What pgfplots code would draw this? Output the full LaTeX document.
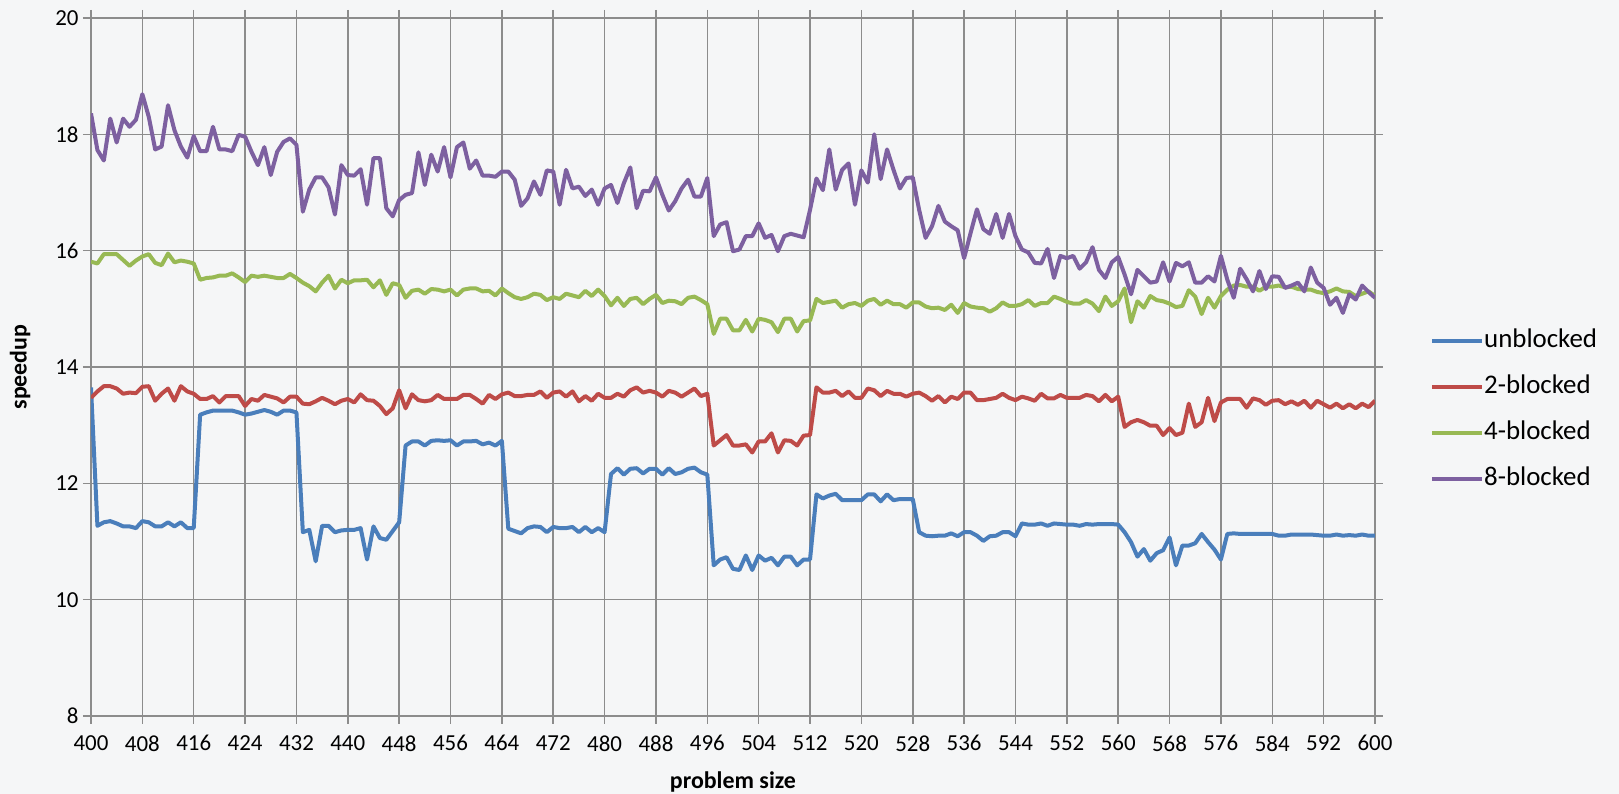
\documentclass[border=0pt]{standalone}
\usepackage{fontspec}
\setmainfont{Carlito}
\usepackage{pgfplots}
\usepackage{pgfplotstable}
\pgfplotsset{compat=1.18}
\definecolor{cU}{HTML}{4A7EBB}
\definecolor{cBb}{HTML}{BE4B48}
\definecolor{cBc}{HTML}{98B954}
\definecolor{cBd}{HTML}{7D60A0}
\definecolor{gridc}{HTML}{8C8C8C}
\definecolor{bg}{HTML}{F5F6F7}
\pgfplotstableread{
x u b2 b4 b8
400 13.65 13.47 15.81 18.36
401 11.27 13.58 15.78 17.73
402 11.33 13.67 15.94 17.55
403 11.35 13.67 15.94 18.27
404 11.31 13.63 15.94 17.86
405 11.26 13.54 15.84 18.27
406 11.26 13.56 15.74 18.13
407 11.23 13.55 15.83 18.25
408 11.35 13.66 15.90 18.69
409 11.33 13.67 15.94 18.30
410 11.26 13.42 15.79 17.74
411 11.26 13.54 15.75 17.79
412 11.33 13.63 15.95 18.50
413 11.26 13.42 15.80 18.07
414 11.33 13.67 15.83 17.79
415 11.23 13.58 15.81 17.60
416 11.23 13.54 15.78 17.97
417 13.18 13.45 15.50 17.71
418 13.22 13.45 15.53 17.71
419 13.25 13.50 15.54 18.13
420 13.25 13.39 15.57 17.74
421 13.25 13.50 15.57 17.74
422 13.25 13.50 15.61 17.71
423 13.22 13.50 15.54 17.99
424 13.18 13.33 15.46 17.96
425 13.20 13.45 15.57 17.70
426 13.23 13.42 15.55 17.47
427 13.26 13.52 15.57 17.78
428 13.23 13.49 15.55 17.30
429 13.18 13.46 15.53 17.70
430 13.25 13.39 15.53 17.87
431 13.25 13.49 15.60 17.93
432 13.22 13.49 15.53 17.82
433 11.16 13.37 15.45 16.67
434 11.20 13.36 15.39 17.05
435 10.66 13.41 15.30 17.26
436 11.27 13.47 15.45 17.26
437 11.27 13.42 15.57 17.09
438 11.16 13.36 15.35 16.62
439 11.19 13.42 15.50 17.47
440 11.20 13.45 15.44 17.30
441 11.20 13.39 15.49 17.29
442 11.23 13.53 15.49 17.40
443 10.69 13.43 15.50 16.79
444 11.26 13.42 15.37 17.59
445 11.06 13.33 15.49 17.59
446 11.03 13.19 15.24 16.73
447 11.18 13.29 15.44 16.59
448 11.33 13.60 15.41 16.87
449 12.65 13.29 15.19 16.96
450 12.72 13.53 15.31 16.99
451 12.72 13.43 15.33 17.69
452 12.65 13.41 15.26 17.13
453 12.73 13.43 15.34 17.65
454 12.74 13.52 15.33 17.36
455 12.73 13.45 15.30 17.78
456 12.74 13.45 15.33 17.26
457 12.65 13.45 15.23 17.78
458 12.72 13.52 15.33 17.86
459 12.72 13.52 15.35 17.41
460 12.73 13.45 15.35 17.55
461 12.67 13.37 15.30 17.29
462 12.70 13.52 15.31 17.29
463 12.65 13.45 15.23 17.27
464 12.73 13.53 15.35 17.36
465 11.22 13.56 15.27 17.36
466 11.18 13.50 15.20 17.22
467 11.14 13.50 15.17 16.77
468 11.23 13.52 15.20 16.90
469 11.26 13.52 15.26 17.19
470 11.25 13.58 15.24 16.96
471 11.16 13.47 15.15 17.38
472 11.25 13.56 15.20 17.36
473 11.23 13.58 15.17 16.79
474 11.23 13.49 15.26 17.39
475 11.25 13.58 15.23 17.07
476 11.16 13.41 15.20 17.10
477 11.25 13.50 15.31 16.94
478 11.16 13.42 15.22 17.05
479 11.23 13.54 15.33 16.79
480 11.16 13.47 15.22 17.07
481 12.16 13.47 15.06 17.13
482 12.26 13.54 15.19 16.82
483 12.15 13.49 15.05 17.16
484 12.25 13.60 15.17 17.43
485 12.26 13.65 15.19 16.73
486 12.17 13.56 15.08 17.03
487 12.25 13.59 15.17 17.02
488 12.25 13.56 15.24 17.26
489 12.15 13.49 15.10 16.96
490 12.26 13.59 15.14 16.69
491 12.16 13.56 15.13 16.85
492 12.19 13.49 15.08 17.07
493 12.25 13.56 15.19 17.22
494 12.27 13.63 15.21 16.93
495 12.19 13.50 15.15 16.93
496 12.15 13.54 15.08 17.25
497 10.59 12.65 14.57 16.25
498 10.69 12.74 14.83 16.45
499 10.73 12.83 14.83 16.49
500 10.53 12.65 14.63 15.99
501 10.51 12.65 14.63 16.02
502 10.76 12.67 14.81 16.25
503 10.51 12.53 14.61 16.25
504 10.76 12.72 14.83 16.47
505 10.67 12.72 14.81 16.22
506 10.72 12.86 14.77 16.27
507 10.59 12.53 14.60 15.99
508 10.74 12.74 14.83 16.25
509 10.74 12.73 14.83 16.29
510 10.59 12.65 14.61 16.26
511 10.69 12.82 14.79 16.23
512 10.69 12.83 14.80 16.70
513 11.81 13.65 15.17 17.24
514 11.74 13.56 15.10 17.04
515 11.79 13.56 15.12 17.74
516 11.82 13.59 15.14 17.05
517 11.71 13.50 15.02 17.39
518 11.71 13.58 15.08 17.50
519 11.71 13.47 15.10 16.79
520 11.71 13.47 15.05 17.38
521 11.81 13.63 15.14 17.17
522 11.81 13.60 15.17 18.00
523 11.69 13.50 15.07 17.23
524 11.81 13.59 15.14 17.74
525 11.71 13.54 15.08 17.39
526 11.73 13.54 15.08 17.07
527 11.73 13.49 15.02 17.25
528 11.73 13.54 15.11 17.26
529 11.16 13.56 15.11 16.70
530 11.10 13.50 15.04 16.22
531 11.09 13.42 15.01 16.42
532 11.10 13.50 15.02 16.77
533 11.10 13.39 14.98 16.50
534 11.14 13.49 15.07 16.42
535 11.09 13.45 14.93 16.35
536 11.16 13.56 15.10 15.87
537 11.16 13.56 15.04 16.30
538 11.10 13.43 15.02 16.71
539 11.01 13.43 15.01 16.37
540 11.09 13.45 14.95 16.29
541 11.10 13.47 15.01 16.63
542 11.16 13.54 15.11 16.22
543 11.16 13.47 15.05 16.63
544 11.09 13.43 15.05 16.25
545 11.31 13.49 15.08 16.02
546 11.29 13.46 15.15 15.97
547 11.29 13.42 15.05 15.79
548 11.31 13.54 15.10 15.78
549 11.27 13.46 15.10 16.03
550 11.31 13.46 15.21 15.53
551 11.30 13.52 15.17 15.91
552 11.29 13.47 15.12 15.87
553 11.29 13.47 15.09 15.91
554 11.27 13.47 15.09 15.69
555 11.30 13.52 15.15 15.80
556 11.29 13.50 15.09 16.06
557 11.30 13.41 14.96 15.67
558 11.30 13.52 15.21 15.53
559 11.30 13.41 15.05 15.80
560 11.29 13.49 15.13 15.89
561 11.16 12.97 15.35 15.59
562 10.99 13.05 14.77 15.25
563 10.74 13.09 15.13 15.67
564 10.87 13.05 15.02 15.56
565 10.67 12.99 15.22 15.45
566 10.80 12.99 15.15 15.47
567 10.85 12.83 15.13 15.80
568 11.07 12.95 15.09 15.47
569 10.59 12.83 15.03 15.79
570 10.93 12.87 15.05 15.73
571 10.93 13.37 15.32 15.80
572 10.97 12.97 15.21 15.45
573 11.13 13.05 14.91 15.45
574 10.99 13.47 15.19 15.56
575 10.86 13.07 15.02 15.47
576 10.69 13.39 15.22 15.91
577 11.13 13.45 15.33 15.50
578 11.14 13.45 15.40 15.19
579 11.13 13.45 15.41 15.69
580 11.13 13.30 15.38 15.51
581 11.13 13.46 15.38 15.30
582 11.13 13.43 15.31 15.65
583 11.13 13.35 15.38 15.34
584 11.13 13.42 15.38 15.56
585 11.10 13.43 15.40 15.55
586 11.10 13.36 15.37 15.36
587 11.12 13.41 15.38 15.40
588 11.12 13.35 15.34 15.45
589 11.12 13.42 15.33 15.30
590 11.12 13.30 15.33 15.71
591 11.11 13.42 15.29 15.45
592 11.10 13.36 15.27 15.36
593 11.10 13.30 15.30 15.07
594 11.12 13.37 15.35 15.19
595 11.10 13.29 15.30 14.93
596 11.11 13.36 15.29 15.25
597 11.10 13.29 15.22 15.16
598 11.12 13.37 15.26 15.40
599 11.10 13.31 15.30 15.29
600 11.10 13.42 15.22 15.19
}\data
\begin{document}
\begin{tikzpicture}
\fill[bg] (0bp,0bp) rectangle (1619bp,794bp);
\useasboundingbox (0bp,0bp) rectangle (1619bp,794bp);
\begin{axis}[
  at={(91bp,78bp)}, anchor=south west,
  scale only axis, width=1284bp, height=698bp,
  xmin=400, xmax=600, ymin=8, ymax=20,
  xtick={400,408,...,600}, ytick={8,10,...,20},
  grid=major,
  major grid style={gridc, line width=1.5bp},
  axis line style={gridc, line width=1.5bp},
  tick style={gridc, line width=1.5bp},
  tick align=outside, major tick length=8bp,
  /pgf/number format/assume math mode=true,
  /pgf/number format/.cd, 1000 sep={}, /pgfplots/.cd,
  tick label style={font=\fontsize{23}{27}\selectfont, text=black},
  xticklabel style={yshift=-8bp},
  yticklabel style={xshift=-1bp},
  xlabel={\textbf{problem size}},
  ylabel={\textbf{speedup}},
  label style={font=\fontsize{24}{28}\selectfont},
  xlabel style={at={(axis description cs:0.5,-0.0946)}, anchor=center},
  ylabel style={at={(axis description cs:-0.0553,0.5)}, anchor=center},
  legend style={at={(axis description cs:1.0428,0.439)}, anchor=west,
    draw=none, fill=none, inner sep=0pt,
    font=\fontsize{27}{32}\selectfont,
    nodes={inner sep=0pt, text height=20bp, text depth=6bp},
    row sep=20bp,
    /tikz/every even column/.append style={column sep=6bp}},
  legend cell align=left,
  legend image code/.code={\draw[#1] (0bp,0bp) -- (50bp,0bp);},
  every axis plot/.append style={line width=4bp, line join=round, mark=none},
]
\addplot[cU] table[x=x, y=u] {\data};
\addplot[cBb] table[x=x, y=b2] {\data};
\addplot[cBc] table[x=x, y=b4] {\data};
\addplot[cBd] table[x=x, y=b8] {\data};
\legend{unblocked, 2-blocked, 4-blocked, 8-blocked}
\end{axis}
\end{tikzpicture}
\end{document}
